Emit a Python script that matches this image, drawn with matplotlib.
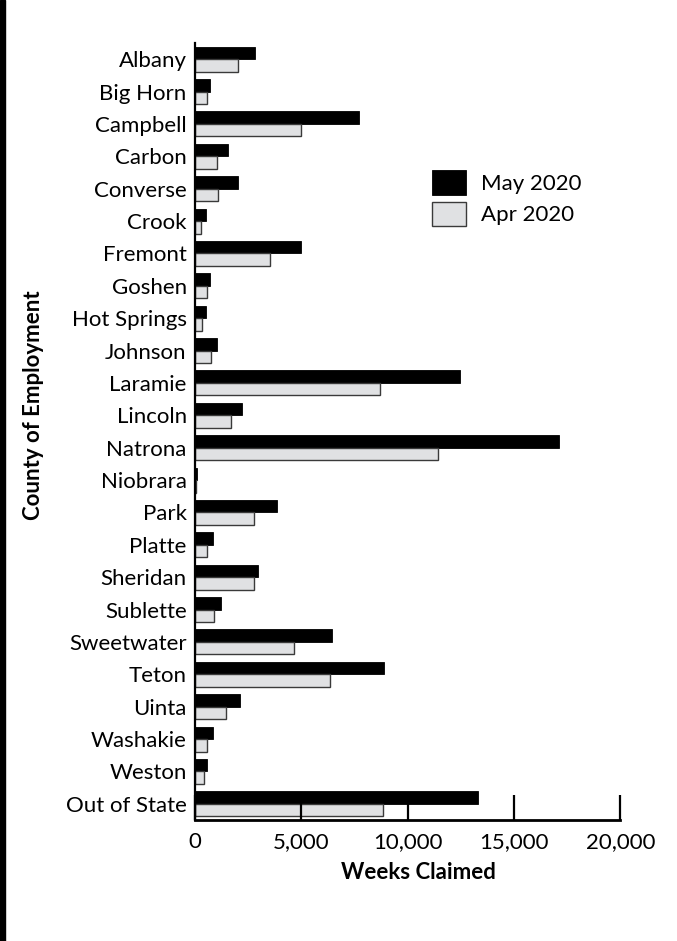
import matplotlib
matplotlib.use("Agg")
import matplotlib.pyplot as plt
from matplotlib.patches import Rectangle
import numpy as np

counties = ["Albany", "Big Horn", "Campbell", "Carbon", "Converse", "Crook", "Fremont",
            "Goshen", "Hot Springs", "Johnson", "Laramie", "Lincoln", "Natrona", "Niobrara",
            "Park", "Platte", "Sheridan", "Sublette", "Sweetwater", "Teton", "Uinta",
            "Washakie", "Weston", "Out of State"]
may_2020 = [2820, 720, 7690, 1570, 2040, 520, 4970, 700, 500, 1035, 12460, 2210, 17110, 80,
            3875, 860, 2980, 1240, 6460, 8910, 2120, 850, 580, 13320]
apr_2020 = [2040, 565, 4970, 1020, 1080, 300, 3530, 560, 330, 750, 8700, 1690, 11410, 50,
            2790, 565, 2760, 880, 4660, 6370, 1440, 565, 410, 8825]
xticks = [0, 5000, 10000, 15000, 20000]
xtick_labels = ["0", "5,000", "10,000", "15,000", "20,000"]

plt.rcParams['font.family'] = ['Lato', 'DejaVu Sans']

W, H = 677, 941
X0, X1, YT, YB = 195, 620.3, 43, 820
fig = plt.figure(figsize=(W / 100, H / 100), dpi=100)
ax = fig.add_axes([X0 / W, 1 - YB / H, (X1 - X0) / W, (YB - YT) / H])

y = np.arange(len(counties))
h = 0.385
ax.barh(y - h / 2, may_2020, height=h, color="black", edgecolor="black", linewidth=0.6,
        label="May 2020")
ax.barh(y + h / 2, apr_2020, height=h, color="#e0e1e3", edgecolor="#3a3a3a", linewidth=1.0,
        label="Apr 2020")

ax.set_ylim(len(counties) - 0.5, -0.5)
ax.set_xlim(0, 20000)
ax.set_yticks(y)
ax.set_yticklabels(counties, fontsize=16)
ax.set_xticks(xticks)
ax.set_xticklabels(xtick_labels, fontsize=16)
ax.tick_params(axis="y", length=0, pad=6)
ax.tick_params(axis="x", direction="in", length=18, width=1.6, pad=9)

for s in ["top", "right"]:
    ax.spines[s].set_visible(False)
ax.spines["left"].set_linewidth(1.6)
ax.spines["bottom"].set_linewidth(2.0)

ax.set_xlabel("Weeks Claimed", fontsize=16, fontweight="bold")
ax.xaxis.set_label_coords((418 - X0) / (X1 - X0), -(862 - YB) / (YB - YT))
ax.set_ylabel("County of Employment", fontsize=16, fontweight="bold")
ax.yaxis.set_label_coords(-(X0 - 44) / (X1 - X0), (YB - 405) / (YB - YT))

leg = ax.legend(loc="upper left", bbox_to_anchor=((423 - X0) / (X1 - X0), (YB - 161) / (YB - YT)),
                frameon=False, fontsize=16, handlelength=1.55, handleheight=1.35,
                labelspacing=0.3, handletextpad=0.65, borderaxespad=0)

fig.add_artist(Rectangle((0, 0), 5 / W, 1, transform=fig.transFigure, color="black"))

fig.savefig("out.png", dpi=100)
